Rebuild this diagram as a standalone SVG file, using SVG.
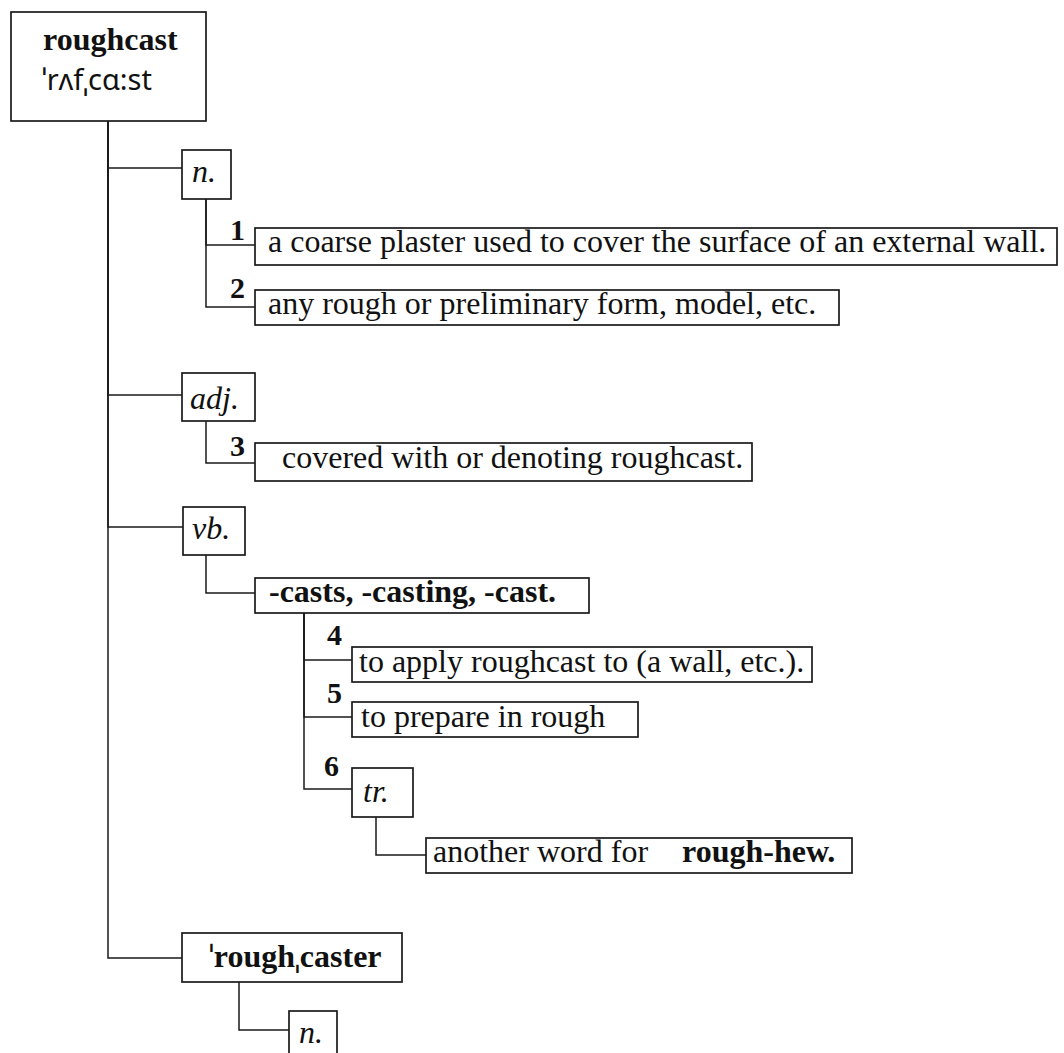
<svg xmlns="http://www.w3.org/2000/svg" width="1064" height="1053" viewBox="0 0 1064 1053">
<style>
.bg{fill:#fff}
.box{fill:#fff;stroke:#1a1a1a;stroke-width:1.7}
.ln{fill:none;stroke:#1a1a1a;stroke-width:1.5}
text{font-family:"Liberation Serif","Times New Roman",serif;fill:#111;font-size:32px}
.b{font-weight:bold}
.i{font-style:italic}
.num{font-weight:bold;font-size:30px}
.ph{font-family:"Noto Sans","DejaVu Sans",sans-serif;font-size:29px}
.sm{font-family:"Noto Sans","DejaVu Sans",sans-serif;font-weight:normal;font-size:30px}
</style>
<rect class="bg" x="0" y="0" width="1064" height="1053"/>
<g id="connectors">
<path class="ln" d="M108,121 V168 H182"/>
<path class="ln" d="M108,121 V395 H182"/>
<path class="ln" d="M108,121 V527 H183"/>
<path class="ln" d="M108,121 V958 H182"/>
<path class="ln" d="M206,199 V245 H255"/>
<path class="ln" d="M206,199 V307 H255"/>
<path class="ln" d="M206,421 V463 H255"/>
<path class="ln" d="M206,555 V593 H255"/>
<path class="ln" d="M304,613 V660 H352"/>
<path class="ln" d="M304,613 V717 H352"/>
<path class="ln" d="M304,613 V789 H352"/>
<path class="ln" d="M376,817 V855 H426"/>
<path class="ln" d="M239,982 V1030 H289"/>
<text class="num" x="230" y="240">1</text>
<text class="num" x="230" y="298">2</text>
<text class="num" x="230" y="456">3</text>
<text class="num" x="327" y="645">4</text>
<text class="num" x="327" y="703">5</text>
<text class="num" x="324" y="776">6</text>
</g>
<g id="root">
<rect class="box" x="11" y="12" width="195" height="109"/>
<text class="b" x="43" y="50">roughcast</text>
<text class="ph" x="42" y="90">ˈrʌfˌcɑ:st</text>
</g>
<g id="pos-n">
<rect class="box" x="182" y="150" width="49" height="49"/>
<text class="i" x="192" y="182">n.</text>
</g>
<g id="sense-1">
<rect class="box" x="255" y="228" width="802" height="37"/>
<text x="268" y="252">a coarse plaster used to cover the surface of an external wall.</text>
</g>
<g id="sense-2">
<rect class="box" x="255" y="290" width="584" height="35"/>
<text x="268" y="314">any rough or preliminary form, model, etc.</text>
</g>
<g id="pos-adj">
<rect class="box" x="182" y="373" width="73" height="48"/>
<text class="i" x="190" y="409">adj.</text>
</g>
<g id="sense-3">
<rect class="box" x="255" y="443" width="497" height="38"/>
<text x="282" y="468">covered with or denoting roughcast.</text>
</g>
<g id="pos-vb">
<rect class="box" x="183" y="507" width="62" height="48"/>
<text class="i" x="192" y="539">vb.</text>
</g>
<g id="inflections">
<rect class="box" x="255" y="578" width="334" height="35"/>
<text class="b" x="269" y="602">-casts, -casting, -cast.</text>
</g>
<g id="sense-4">
<rect class="box" x="352" y="647" width="460" height="35"/>
<text x="359" y="672">to apply roughcast to (a wall, etc.).</text>
</g>
<g id="sense-5">
<rect class="box" x="352" y="702" width="286" height="35"/>
<text x="361" y="727">to prepare in rough</text>
</g>
<g id="pos-tr">
<rect class="box" x="352" y="768" width="61" height="49"/>
<text class="i" x="363" y="802">tr.</text>
</g>
<g id="sense-6">
<rect class="box" x="426" y="838" width="426" height="35"/>
<text x="433" y="862">another word for <tspan class="b" x="682">rough-hew.</tspan></text>
</g>
<g id="roughcaster">
<rect class="box" x="182" y="933" width="220" height="49"/>
<text class="b" x="209" y="967"><tspan class="sm">ˈ</tspan>rough<tspan class="sm">ˌ</tspan>caster</text>
</g>
<g id="roughcaster-n">
<rect class="box" x="289" y="1011" width="48" height="60"/>
<text class="i" x="299" y="1043">n.</text>
</g>
</svg>
